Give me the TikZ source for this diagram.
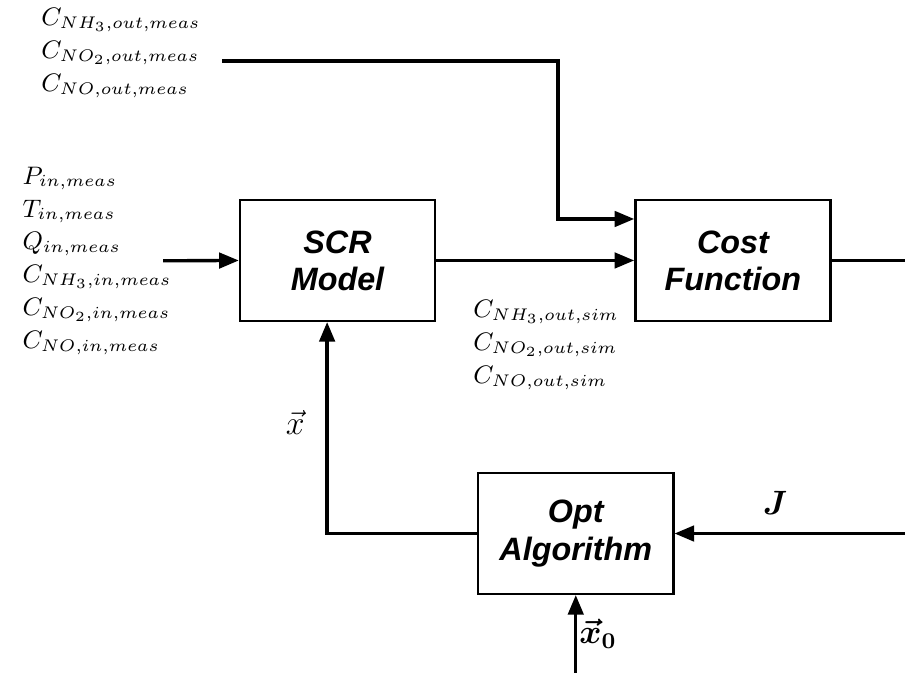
\documentclass[tikz,border=0pt]{standalone}
\usepackage{amsmath}
\usepackage{fontspec}
\setsansfont{Liberation Sans}
\usetikzlibrary{positioning,arrows.meta}

\begin{document}
\begin{tikzpicture}[
    block/.style={
        rectangle,
        draw=black,
        thick,
        minimum width=2.44cm,
        minimum height=1.51cm,
        align=center,
        font=\sffamily\bfseries\itshape\fontsize{11.5}{13.2}\selectfont
    },
    arrow/.style={
        -{Triangle[length=7pt,width=5.5pt]},
        very thick
    },
    line/.style={
        very thick
    },
    lbl/.style={
        inner sep=0pt,
        align=left,
        anchor=west,
        font=\fontsize{9}{11.7}\selectfont
    }
]
\useasboundingbox (0,0) rectangle (11.3125,-8.4125);

% Blocchi
\node[block] (scr) at (4.219,-3.256) {SCR\\Model};
\node[block, right=2.475cm of scr] (cost) {Cost\\Function};
\node[block, below right=1.875cm and 0.51cm of scr] (opt) {Opt\\Algorithm};

% Punti liberi
\coordinate (measin) at (2.775,-0.7625);
\coordinate (bend) at (6.975,-2.7375);
\coordinate (modin) at (2.04,-3.26);
\coordinate (costout) at (11.3125,0 |- cost.east);
\coordinate (jin) at (11.3125,0 |- opt.east);
\coordinate (x0in) at (opt.south |- 0,-8.4125);

% Etichette
\node[lbl] (outmeas) at (0.51,-0.66) {$C_{NH_3,out,meas}$\\$C_{NO_2,out,meas}$\\$C_{NO,out,meas}$};
\node[lbl] (inmeas) at (0.275,-3.26) {$P_{in,meas}$\\$T_{in,meas}$\\$Q_{in,meas}$\\$C_{NH_3,in,meas}$\\$C_{NO_2,in,meas}$\\$C_{NO,in,meas}$};
\node[lbl] (outsim) at (5.91,-4.31) {$C_{NH_3,out,sim}$\\$C_{NO_2,out,sim}$\\$C_{NO,out,sim}$};
\node (xlab) at (3.69,-5.275) {\large$\vec{x}$};
\node (jlab) at (9.69,-6.29) {\large$\boldsymbol{J}$};
\node (x0lab) at (7.475,-7.925) {\large$\boldsymbol{\vec{x}_0}$};

% Frecce
\draw[arrow] (modin) -- (scr.west);
\draw[arrow] (scr.east) -- (cost.west);
\draw[arrow] (measin) -| (bend) -- (cost.west |- bend);
\draw[line] (cost.east) -- (costout);
\draw[arrow] (jin) -- (opt.east);
\draw[arrow] (opt.west) -| ([xshift=-0.13cm]scr.south);
\draw[arrow] (x0in) -- (opt.south);

\end{tikzpicture}
\end{document}
